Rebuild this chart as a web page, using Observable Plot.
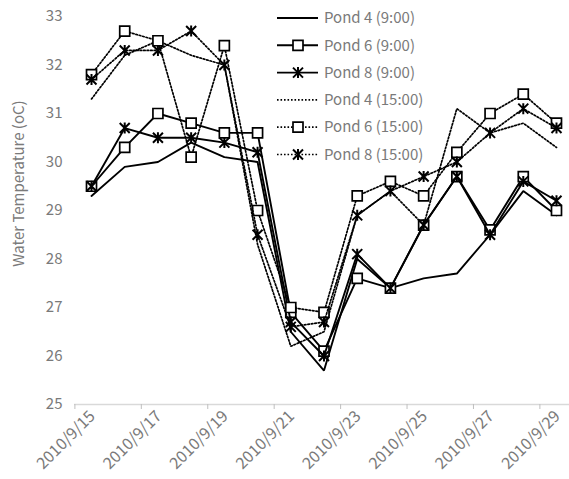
<!DOCTYPE html>
<html>
<head>
<meta charset="utf-8">
<script src="https://cdn.jsdelivr.net/npm/d3@7"></script>
<script src="https://cdn.jsdelivr.net/npm/@observablehq/plot@0.6"></script>
<style>
  html, body { margin: 0; padding: 0; background: #fff; }
  #chart { position: relative; width: 569px; height: 479px; }
  #chart svg { position: absolute; left: 0; top: 0; }
</style>
</head>
<body>
<div id="chart"></div>
<script>
// Daily sampling dates
const dates = [
  "2010/9/15", "2010/9/16", "2010/9/17", "2010/9/18", "2010/9/19",
  "2010/9/20", "2010/9/21", "2010/9/22", "2010/9/23", "2010/9/24",
  "2010/9/25", "2010/9/26", "2010/9/27", "2010/9/28", "2010/9/29"
];

// Water temperature (oC) per pond and sampling time
const pond4_0900 = [29.3, 29.9, 30.0, 30.4, 30.1, 30.0, 26.5, 25.7, 28.0, 27.4, 27.6, 27.7, 28.5, 29.4, 28.9];
const pond6_0900 = [29.5, 30.3, 31.0, 30.8, 30.6, 30.6, 26.9, 26.1, 27.6, 27.4, 28.7, 29.7, 28.6, 29.7, 29.0];
const pond8_0900 = [29.5, 30.7, 30.5, 30.5, 30.4, 30.2, 26.7, 26.0, 28.1, 27.4, 28.7, 29.7, 28.5, 29.6, 29.2];
const pond4_1500 = [31.3, 32.2, 32.5, 32.2, 32.0, 28.3, 26.2, 26.5, 28.9, 29.4, 28.7, 31.1, 30.6, 30.8, 30.3];
const pond6_1500 = [31.8, 32.7, 32.5, 30.1, 32.4, 29.0, 27.0, 26.9, 29.3, 29.6, 29.3, 30.2, 31.0, 31.4, 30.8];
const pond8_1500 = [31.7, 32.3, 32.3, 32.7, 32.0, 28.5, 26.6, 26.7, 28.9, 29.4, 29.7, 30.0, 30.6, 31.1, 30.7];

const seriesNames = [
  "Pond 4 (9:00)", "Pond 6 (9:00)", "Pond 8 (9:00)",
  "Pond 4 (15:00)", "Pond 6 (15:00)", "Pond 8 (15:00)"
];
const seriesValues = [pond4_0900, pond6_0900, pond8_0900, pond4_1500, pond6_1500, pond8_1500];
const seriesMarker = ["none", "square", "star", "none", "square", "star"];
const seriesDotted = [false, false, false, true, true, true];

const yTicks = [25, 26, 27, 28, 29, 30, 31, 32, 33];
const yLabel = "Water Temperature (oC)";

// Hollow square and Excel-style star (X with a vertical bar) symbols
const squareSymbol = {
  draw(ctx, size) {
    const h = Math.sqrt(size / Math.PI);
    ctx.moveTo(-h, -h); ctx.lineTo(h, -h); ctx.lineTo(h, h); ctx.lineTo(-h, h); ctx.closePath();
  }
};
const starSymbol = {
  draw(ctx, size) {
    const h = Math.sqrt(size / Math.PI);
    ctx.moveTo(-h, -h); ctx.lineTo(h, h);
    ctx.moveTo(h, -h); ctx.lineTo(-h, h);
    ctx.moveTo(0, -h * 1.1); ctx.lineTo(0, h * 1.1);
  }
};
const symbolFor = {square: squareSymbol, star: starSymbol};

const font = "'Noto Sans CJK SC', 'Noto Sans', sans-serif";
const textColor = "#7a7a7a";
const DASH = "1.6,1.9";

const rows = seriesNames.map((name, s) =>
  seriesValues[s].map((v, i) => ({series: name, i, date: dates[i], value: v}))
);

// tick marks sit between categories, labels on every other category
const tickBoundaries = d3.range(-0.5, 14, 2);
const labelIndex = d3.range(0, 15, 2);

const seriesMarks = [];
rows.forEach((data, s) => {
  seriesMarks.push(Plot.line(data, {
    x: "i", y: "value",
    stroke: "#000",
    strokeWidth: seriesDotted[s] ? 1.7 : 1.9,
    strokeDasharray: seriesDotted[s] ? DASH : null,
    strokeLinejoin: "miter"
  }));
  if (seriesMarker[s] !== "none") {
    seriesMarks.push(Plot.dot(data, {
      x: "i", y: "value",
      symbol: symbolFor[seriesMarker[s]],
      r: 5,
      stroke: "#000",
      strokeWidth: seriesMarker[s] === "star" ? 2 : 1.7,
      fill: seriesMarker[s] === "square" ? "#fff" : "none"
    }));
  }
});

const chart = Plot.plot({
  width: 569,
  height: 479,
  marginTop: 16,
  marginBottom: 75,
  marginLeft: 74,
  marginRight: 0,
  style: {fontFamily: font, fontSize: "15px", color: textColor, background: "#fff", overflow: "visible"},
  x: {type: "linear", domain: [-0.5, 14.5], range: [74.4, 572.6]},
  y: {domain: [25, 33], range: [404, 16]},
  marks: [
    Plot.ruleY([25], {stroke: "#d9d9d9", strokeWidth: 1.5}),
    Plot.axisX({ticks: tickBoundaries, tickSize: 5, tickFormat: () => "", stroke: "#bfbfbf", label: null}),
    Plot.axisX({
      ticks: labelIndex, tickSize: 0, tickPadding: 9, tickRotate: -45, dx: 1,
      tickFormat: i => dates[i], label: null, fill: textColor, fontSize: 16
    }),
    Plot.axisY({ticks: yTicks, tickSize: 0, tickPadding: 12, label: null, fill: textColor, fontSize: 15}),
    Plot.text([yLabel], {
      frameAnchor: "left", textAnchor: "middle", rotate: -90, dx: -55, dy: -27,
      fill: textColor, fontSize: 15, fontFamily: font
    }),
    ...seriesMarks
  ]
});

const host = document.getElementById("chart");
host.appendChild(chart);

// Legend in the upper right of the plot area
const legend = d3.select(host).append("svg")
  .attr("width", 569).attr("height", 479)
  .style("pointer-events", "none");
const rowY = d3.range(seriesNames.length).map(k => 18 + k * 27.3);
const lx0 = 277, lx1 = 318, lmx = 298, ltx = 324;
seriesNames.forEach((name, s) => {
  const g = legend.append("g").attr("transform", `translate(0,${rowY[s]})`);
  g.append("line").attr("x1", lx0).attr("x2", lx1).attr("y1", 0).attr("y2", 0)
    .attr("stroke", "#000")
    .attr("stroke-width", seriesDotted[s] ? 1.7 : 1.9)
    .attr("stroke-dasharray", seriesDotted[s] ? DASH : null);
  if (seriesMarker[s] !== "none") {
    const sym = d3.symbol(symbolFor[seriesMarker[s]], Math.PI * 25);
    g.append("path").attr("transform", `translate(${lmx},0)`).attr("d", sym())
      .attr("stroke", "#000")
      .attr("stroke-width", seriesMarker[s] === "star" ? 2 : 1.7)
      .attr("fill", seriesMarker[s] === "square" ? "#fff" : "none");
  }
  g.append("text").attr("x", ltx).attr("y", 0).attr("dy", "0.35em")
    .attr("fill", textColor)
    .style("font-family", font).style("font-size", "15px")
    .text(name);
});
</script>
</body>
</html>
